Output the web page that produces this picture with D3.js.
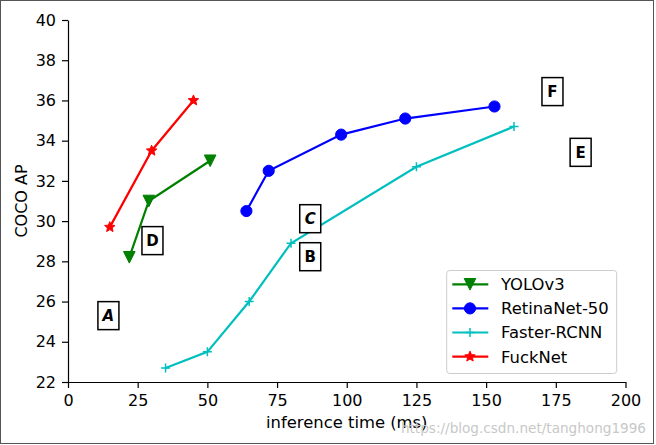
<!DOCTYPE html>
<html><head><meta charset="utf-8">
<script src="https://cdn.jsdelivr.net/npm/d3@7/dist/d3.min.js"></script>
<style>body{margin:0;background:#fff} text{font-family:"DejaVu Sans",sans-serif}</style>
</head><body><svg id="c" width="656" height="445"></svg>
<script>
const xTicks=[0,25,50,75,100,125,150,175,200];
const yTicks=[22,24,26,28,30,32,34,36,38,40];
const seriesNames=["YOLOv3","RetinaNet-50","Faster-RCNN","FuckNet"];
const yoloX=[22,29,51], yoloY=[28.2,31.0,33.0];
const retinaX=[64,72,98,121,153], retinaY=[30.5,32.5,34.3,35.1,35.7];
const frcnnX=[35,50,65,80,125,160], frcnnY=[22.7,23.5,26.0,28.9,32.7,34.7];
const fuckX=[15,30,45], fuckY=[29.7,33.5,36.0];
const labelText=["A","B","C","D","E","F"];
const labelX=[14.5,86.9,86.9,30.3,183.9,173.8];
const labelY=[25.3,28.23,30.12,29.03,33.42,36.44];

const svg=d3.select("#c");
const W=656,H=445;
svg.append("rect").attr("x",0.5).attr("y",0.5).attr("width",W-3).attr("height",H-2)
  .attr("fill","#fff").attr("stroke","#555").attr("stroke-width",1);

const x=d3.scaleLinear().domain([0,200]).range([68,625.5]);
const y=d3.scaleLinear().domain([22,40]).range([382,20]);

const gx=svg.append("g").attr("transform","translate(0,382)")
  .call(d3.axisBottom(x).tickValues(xTicks).tickSize(6).tickPadding(7).tickSizeOuter(0));
const gy=svg.append("g").attr("transform","translate(68,0)")
  .call(d3.axisLeft(y).tickValues(yTicks).tickSize(6).tickPadding(6).tickSizeOuter(0));
[gx,gy].forEach(g=>{g.selectAll("text").attr("font-size",16).attr("fill","#000").attr("font-family","DejaVu Sans");
  g.selectAll("line,path").attr("stroke","#000").attr("stroke-width",1.2);});

svg.append("text").attr("x",(68+625.5)/2).attr("y",422.7).attr("dy","0.35em").attr("text-anchor","middle")
  .attr("font-size",16.4).text("inference time (ms)");
svg.append("text").attr("transform",`translate(26.5,201) rotate(-90)`).attr("text-anchor","middle")
  .attr("font-size",16).text("COCO AP");

const triDown={draw(c,s){const r=s;c.moveTo(0,r);c.lineTo(-r,-r);c.lineTo(r,-r);c.closePath();}};
const plus={draw(c,s){const r=s;c.moveTo(-r,0);c.lineTo(r,0);c.moveTo(0,-r);c.lineTo(0,r);}};
const circ={draw(c,s){c.moveTo(s,0);c.arc(0,0,s,0,2*Math.PI);}};
const star={draw(c,s){for(let i=0;i<10;i++){const a=-Math.PI/2+i*Math.PI/5;const r=i%2?s*0.45:s;
  const px=r*Math.cos(a),py=r*Math.sin(a); if(i===0)c.moveTo(px,py);else c.lineTo(px,py);}c.closePath();}};

const series=[
  {name:seriesNames[0],xs:yoloX,ys:yoloY,color:"#008000",sym:triDown,size:5.8,fill:true},
  {name:seriesNames[1],xs:retinaX,ys:retinaY,color:"#0000ff",sym:circ,size:5.6,fill:true},
  {name:seriesNames[2],xs:frcnnX,ys:frcnnY,color:"#00bfbf",sym:plus,size:4.5,fill:false},
  {name:seriesNames[3],xs:fuckX,ys:fuckY,color:"#ff0000",sym:star,size:5.5,fill:true}
];
const line=d3.line().x(d=>x(d[0])).y(d=>y(d[1]));
series.forEach(s=>{
  const pts=s.xs.map((v,i)=>[v,s.ys[i]]);
  svg.append("path").attr("d",line(pts)).attr("fill","none").attr("stroke",s.color).attr("stroke-width",2.2);
  svg.selectAll(null).data(pts).enter().append("path")
    .attr("transform",d=>`translate(${x(d[0])},${y(d[1])})`)
    .attr("d",d3.symbol().type(s.sym).size(s.size))
    .attr("fill",s.fill?s.color:"none").attr("stroke",s.color).attr("stroke-width",s.fill?1:1.5);
});

// letter boxes
labelText.forEach((t,i)=>{
  const g=svg.append("g").attr("transform",`translate(${x(labelX[i])},${y(labelY[i])})`);
  const w=21,h=28;
  g.append("rect").attr("x",-w/2).attr("y",-h/2).attr("width",w).attr("height",h)
   .attr("fill","#fff").attr("stroke","#000").attr("stroke-width",1.5);
  g.append("text").attr("text-anchor","middle").attr("dy","0.36em")
    .attr("font-size",15).attr("font-weight","bold").attr("font-style",t==="A"||t==="C"?"italic":"normal").text(t);
});

// legend
const lg=svg.append("g");
lg.append("rect").attr("x",446.7).attr("y",270.5).attr("width",170).attr("height",103).attr("rx",3)
  .attr("fill","#fff").attr("fill-opacity",0.8).attr("stroke","#ccc").attr("stroke-width",1);
series.forEach((s,i)=>{
  const yy=284.3+i*24.1;
  lg.append("line").attr("x1",452.3).attr("x2",488.3).attr("y1",yy).attr("y2",yy).attr("stroke",s.color).attr("stroke-width",2.2);
  lg.append("path").attr("transform",`translate(470,${yy})`).attr("d",d3.symbol().type(s.sym).size(s.size))
    .attr("fill",s.fill?s.color:"none").attr("stroke",s.color).attr("stroke-width",s.fill?1:1.5);
  lg.append("text").attr("x",501).attr("y",yy).attr("dy","0.36em").attr("font-size",16.4).text(s.name);
});

// watermark
svg.append("text").attr("x",646).attr("y",433).attr("text-anchor","end").attr("font-family","Liberation Sans")
  .attr("font-size",13.6).attr("fill","#c8c8c8").text("https://blog.csdn.net/tanghong1996");
</script></body></html>
